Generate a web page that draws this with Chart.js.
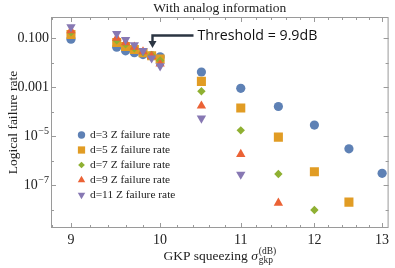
<!DOCTYPE html>
<html>
<head>
<meta charset="utf-8">
<script src="https://cdn.jsdelivr.net/npm/chart.js@4.4.1/dist/chart.umd.min.js"></script>
<style>
  html, body { margin: 0; padding: 0; background: #fff; }
  canvas { display: block; }
</style>
</head>
<body>
<canvas id="chart" width="395" height="268"></canvas>
<script>
// GKP squeezing (dB) and logical failure rates
const squeezing = [9, 9.5, 9.6, 9.7, 9.8, 9.9, 10, 10.5, 11, 11.5, 12, 12.5, 13];
const rateD3 = [0.09, 0.042, 0.030, 0.025, 0.021, 0.019, 0.017, 0.0041, 8.8e-4, 1.6e-4, 2.8e-5, 3.0e-6, 3.0e-7];
const rateD5 = [0.14, 0.065, 0.045, 0.034, 0.025, 0.019, 0.014, 0.0017, 1.4e-4, 9.0e-6, 3.5e-7, 2.0e-8];
const rateD7 = [0.17, 0.080, 0.055, 0.038, 0.026, 0.020, 0.012, 6.7e-4, 1.7e-5, 2.8e-7, 9.5e-9];
const rateD9 = [0.20, 0.100, 0.065, 0.043, 0.028, 0.018, 0.0088, 1.7e-4, 1.8e-6, 1.85e-8];
const rateD11 = [0.28, 0.150, 0.085, 0.052, 0.030, 0.015, 0.0072, 5.3e-5, 2.7e-7];

const seriesLabels = ['d=3 Z failure rate', 'd=5 Z failure rate', 'd=7 Z failure rate', 'd=9 Z failure rate', 'd=11 Z failure rate'];
const xTickLabels = [9, 10, 11, 12, 13];
const yTickLabels = [1e-1, 1e-3, 1e-5, 1e-7];
const thresholdDb = 9.9;

const colors = ['#5e81b5', '#e19c24', '#8fb032', '#eb6235', '#8778b3'];
const styles = [
  { pointStyle: 'circle', radius: 4.6, rotation: 0 },
  { pointStyle: 'rect', radius: 6.4, rotation: 0 },
  { pointStyle: 'rectRot', radius: 4.2, rotation: 0 },
  { pointStyle: 'triangle', radius: 5.4, rotation: 0 },
  { pointStyle: 'triangle', radius: 5.4, rotation: 180 }
];

const rates = [rateD3, rateD5, rateD7, rateD9, rateD11];
const datasets = rates.map((r, i) => ({
  label: seriesLabels[i],
  data: r.map((y, j) => ({ x: squeezing[j], y: y })),
  backgroundColor: colors[i],
  borderColor: colors[i],
  borderWidth: 0,
  pointStyle: styles[i].pointStyle,
  pointRadius: styles[i].radius,
  pointRotation: styles[i].rotation,
  order: rates.length - i
}));

const SERIF = '"Liberation Serif", "Times New Roman", serif';
const FRAME = '#9a9a9a';
const INK = '#222';

function drawMarker(ctx, style, color, x, y, r) {
  if (Chart.helpers && Chart.helpers.drawPoint) {
    ctx.save();
    ctx.fillStyle = color;
    ctx.strokeStyle = color;
    ctx.lineWidth = 0;
    Chart.helpers.drawPoint(ctx, { pointStyle: style.pointStyle, rotation: style.rotation, radius: r, borderWidth: 0 }, x, y);
    ctx.restore();
  }
}

// powers of ten as "10" with a superscript
function drawPow(ctx, v, rightX, y) {
  const exp = Math.round(Math.log10(v));
  if (exp >= -3) {
    ctx.font = '14px ' + SERIF;
    ctx.textAlign = 'right';
    ctx.fillText(v.toFixed(3), rightX, y);
    return;
  }
  const sup = '\u2212' + (-exp);
  ctx.font = '10px ' + SERIF;
  const wSup = ctx.measureText(sup).width;
  ctx.textAlign = 'left';
  ctx.fillText(sup, rightX - wSup, y - 5);
  ctx.font = '14px ' + SERIF;
  const wBase = ctx.measureText('10').width;
  ctx.fillText('10', rightX - wSup - wBase - 0.5, y);
}

const framePlugin = {
  id: 'frame',
  beforeDatasetsDraw(chart) {
    const { ctx, chartArea: a, scales: { x, y } } = chart;
    ctx.save();
    ctx.strokeStyle = FRAME;
    ctx.lineWidth = 1;
    ctx.strokeRect(a.left + 0.5, a.top + 0.5, a.right - a.left - 1, a.bottom - a.top - 1);
    ctx.beginPath();
    // x ticks: major every 1, minor every 0.2
    for (let k = 44; k <= 65; k++) {
      const v = k / 5;
      const px = Math.round(x.getPixelForValue(v)) + 0.5;
      if (px < a.left + 1 || px > a.right - 1) continue;
      const len = (k % 5 === 0) ? 5 : 3;
      ctx.moveTo(px, a.bottom); ctx.lineTo(px, a.bottom - len);
      ctx.moveTo(px, a.top); ctx.lineTo(px, a.top + len);
    }
    // y ticks every decade
    for (let e = -1; e >= -8; e--) {
      const py = Math.round(y.getPixelForValue(Math.pow(10, e))) + 0.5;
      const len = (e % 2 !== 0) ? 5 : 3;
      ctx.moveTo(a.left, py); ctx.lineTo(a.left + len, py);
      ctx.moveTo(a.right, py); ctx.lineTo(a.right - len, py);
    }
    ctx.stroke();
    ctx.restore();
  },
  afterDraw(chart) {
    const { ctx, chartArea: a, scales: { x, y } } = chart;
    ctx.save();
    ctx.fillStyle = INK;
    ctx.textBaseline = 'middle';

    // tick labels
    ctx.font = '14px ' + SERIF;
    ctx.textAlign = 'center';
    xTickLabels.forEach(v => ctx.fillText(String(v), x.getPixelForValue(v), a.bottom + 12));
    yTickLabels.forEach(v => drawPow(ctx, v, a.left - 2, y.getPixelForValue(v)));

    // title
    ctx.font = '13.5px ' + SERIF;
    ctx.textAlign = 'center';
    ctx.fillText('With analog information', (a.left + a.right) / 2, 8);

    // y axis title
    ctx.save();
    ctx.translate(13, (a.top + a.bottom) / 2);
    ctx.rotate(-Math.PI / 2);
    ctx.font = '13.5px ' + SERIF;
    ctx.fillText('Logical failure rate', 0, 0);
    ctx.restore();

    // x axis title with sigma sub/superscript
    const base = 'GKP squeezing ';
    ctx.font = '13.5px ' + SERIF;
    const wBase = ctx.measureText(base).width;
    ctx.font = 'italic 13.5px ' + SERIF;
    const wSig = ctx.measureText('\u03c3').width;
    ctx.font = '9.5px ' + SERIF;
    const wSub = Math.max(ctx.measureText('gkp').width, ctx.measureText('(dB)').width);
    let tx = (a.left + a.right) / 2 - (wBase + wSig + wSub + 1) / 2;
    const ty = 256;
    ctx.textAlign = 'left';
    ctx.font = '13.5px ' + SERIF;
    ctx.fillText(base, tx, ty);
    tx += wBase;
    ctx.font = 'italic 13.5px ' + SERIF;
    ctx.fillText('\u03c3', tx, ty);
    tx += wSig + 1;
    ctx.font = '9.5px ' + SERIF;
    ctx.fillText('(dB)', tx, ty - 5);
    ctx.fillText('gkp', tx, ty + 4);

    // legend inside the plot
    ctx.font = '11.4px ' + SERIF;
    ctx.textAlign = 'left';
    seriesLabels.forEach((lab, i) => {
      const ly = 135 + i * 15;
      drawMarker(ctx, styles[i], colors[i], 81.5, ly, styles[i].radius * 0.8);
      ctx.fillStyle = INK;
      ctx.fillText(lab, 90, ly);
    });

    // threshold annotation arrow
    const tipX = Math.round(x.getPixelForValue(thresholdDb)) + 0.5;
    const tipY = 48;
    const lineY = 35.5;
    ctx.strokeStyle = '#2b3542';
    ctx.fillStyle = '#2b3542';
    ctx.lineWidth = 2.4;
    ctx.beginPath();
    ctx.moveTo(tipX + 41, lineY);
    ctx.lineTo(tipX, lineY);
    ctx.lineTo(tipX, tipY - 6);
    ctx.stroke();
    ctx.beginPath();
    ctx.moveTo(tipX - 4, tipY - 7);
    ctx.lineTo(tipX + 4, tipY - 7);
    ctx.lineTo(tipX, tipY);
    ctx.closePath();
    ctx.fill();
    ctx.font = '14.2px "Open Sans", "Noto Sans", sans-serif';
    ctx.fillStyle = '#111';
    ctx.textAlign = 'left';
    ctx.fillText('Threshold = ' + thresholdDb + 'dB', tipX + 45, lineY);
    ctx.restore();
  }
};

new Chart(document.getElementById('chart'), {
  type: 'scatter',
  data: { datasets: datasets },
  options: {
    responsive: false,
    animation: false,
    devicePixelRatio: 1,
    layout: { padding: { left: 51, top: 17, right: 3, bottom: 40 } },
    scales: {
      x: { type: 'logarithmic', min: 8.79, max: 13.1, display: false },
      y: { type: 'logarithmic', min: 1.76e-9, max: 0.72, display: false }
    },
    plugins: {
      legend: { display: false },
      tooltip: { enabled: false }
    }
  },
  plugins: [framePlugin]
});
</script>
</body>
</html>
